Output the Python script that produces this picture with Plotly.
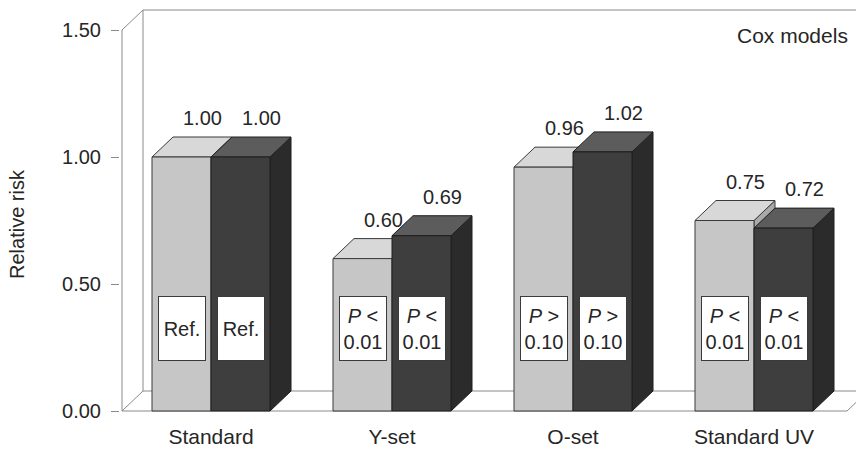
import plotly.graph_objects as go

# ---- data ----
categories = ["Standard", "Y-set", "O-set", "Standard UV"]
rr_light = [1.00, 0.60, 0.96, 0.75]
rr_dark = [1.00, 0.69, 1.02, 0.72]
p_labels = ["Ref.", "<i>P</i> <<br>0.01", "<i>P</i> ><br>0.10", "<i>P</i> <<br>0.01"]
y_tickvals = [0.0, 0.5, 1.0, 1.5]
y_ticktext = ["0.00", "0.50", "1.00", "1.50"]

# ---- page / scale setup ----
W, H = 856, 452
ML, MR, MT, MB = 120, 0, 5, 38
PX = 181.0          # pixels per category step
PY = 254.0          # pixels per unit of relative risk
CAT0_PX = 211.0     # pixel position of the first category centre

X0 = -(CAT0_PX - ML) / PX
X1 = X0 + (W - ML - MR) / PX
Y0 = -3.0 / PY
Y1 = Y0 + (H - MT - MB) / PY

BAR_W = 59.0 / PX   # front-face width of one bar
DX = 21.0 / PX      # depth offset (x)
DY = 20.0 / PY      # depth offset (y)
AX = X0 + 2.0 / PX  # front edge of the box (value axis line)
FLOOR_END = X0 + (847.0 - ML) / PX
YMAX = 1.5

FONT = "Liberation Sans, Arial, Helvetica, sans-serif"
TXT = "#262626"
FRAME = "#8a8a8a"

LIGHT = dict(front="#c6c6c6", top="#d8d8d8", side="#a9a9a9", edge="#3a3a3a")
DARK = dict(front="#3e3e3e", top="#5c5c5c", side="#2b2b2b", edge="#1e1e1e")

fig = go.Figure()


def poly(xs, ys, fill, edge):
    fig.add_trace(go.Scatter(
        x=xs + [xs[0]], y=ys + [ys[0]], mode="lines", fill="toself",
        fillcolor=fill, line=dict(color=edge, width=1),
        hoverinfo="skip", showlegend=False))


def bar3d(xl, v, c):
    xr = xl + BAR_W
    # right side face
    poly([xr, xr + DX, xr + DX, xr], [0, DY, v + DY, v], c["side"], c["edge"])
    # top face
    poly([xl, xr, xr + DX, xl + DX], [v, v, v + DY, v + DY], c["top"], c["edge"])
    # front face
    poly([xl, xr, xr, xl], [0, 0, v, v], c["front"], c["edge"])


annotations = []
for i, cat in enumerate(categories):
    for xl, v, col in ((i - BAR_W, rr_light[i], LIGHT), (i, rr_dark[i], DARK)):
        bar3d(xl, v, col)
        xc = xl + BAR_W / 2
        # value above the bar
        annotations.append(dict(
            x=xc + DX, y=v + DY, xref="x", yref="y", text=f"{v:.2f}",
            showarrow=False, yanchor="bottom", yshift=6,
            font=dict(family=FONT, size=20, color=TXT)))
        # significance box on the front face
        annotations.append(dict(
            x=xc, y=0.325, xref="x", yref="y", text=p_labels[i],
            showarrow=False, width=44, height=61, align="center",
            bgcolor="white", bordercolor="#3a3a3a", borderwidth=1, borderpad=1,
            font=dict(family=FONT, size=20, color=TXT)))

annotations.append(dict(
    x=(792 - ML) / (W - ML - MR), y=(H - MB - 35) / (H - MT - MB),
    xref="paper", yref="paper", xanchor="center", yanchor="middle",
    text="Cox models", showarrow=False,
    font=dict(family=FONT, size=21, color=TXT)))

# value-axis title
annotations.append(dict(
    x=(17 - ML) / (W - ML - MR), y=(H - MB - 224) / (H - MT - MB),
    xref="paper", yref="paper", xanchor="center", yanchor="middle",
    text="Relative risk", textangle=-90, showarrow=False,
    font=dict(family=FONT, size=20, color=TXT)))

# box frame: value axis, back wall and floor
frame = [
    (AX, 0, AX, YMAX),
    (AX, YMAX, AX + DX, YMAX + DY),
    (AX + DX, YMAX + DY, X1, YMAX + DY),
    (AX + DX, DY, AX + DX, YMAX + DY),
    (AX, 0, FLOOR_END, 0),
    (AX + DX, DY, X1, DY),
    (AX, 0, AX + DX, DY),
    (FLOOR_END, 0, FLOOR_END + DX, DY),
]
shapes = [dict(type="line", xref="x", yref="y", x0=a, y0=b, x1=c, y1=d,
               layer="below", line=dict(color=FRAME, width=1))
          for a, b, c, d in frame]

fig.update_layout(
    width=W, height=H,
    margin=dict(l=ML, r=MR, t=MT, b=MB),
    paper_bgcolor="white", plot_bgcolor="white",
    font=dict(family=FONT, color=TXT),
    shapes=shapes, annotations=annotations,
    xaxis=dict(range=[X0, X1], tickvals=list(range(len(categories))),
               ticktext=categories, ticks="", showline=False, showgrid=False,
               zeroline=False, tickfont=dict(size=21, color=TXT),
               ticklabelstandoff=8, fixedrange=True),
    yaxis=dict(range=[Y0, Y1], tickvals=y_tickvals, ticktext=y_ticktext,
               ticks="outside", ticklen=8, tickcolor=FRAME, showline=False,
               showgrid=False, zeroline=False, ticklabelstandoff=6,
               tickfont=dict(size=20, color=TXT), fixedrange=True),
)

fig.write_html("out.html")
